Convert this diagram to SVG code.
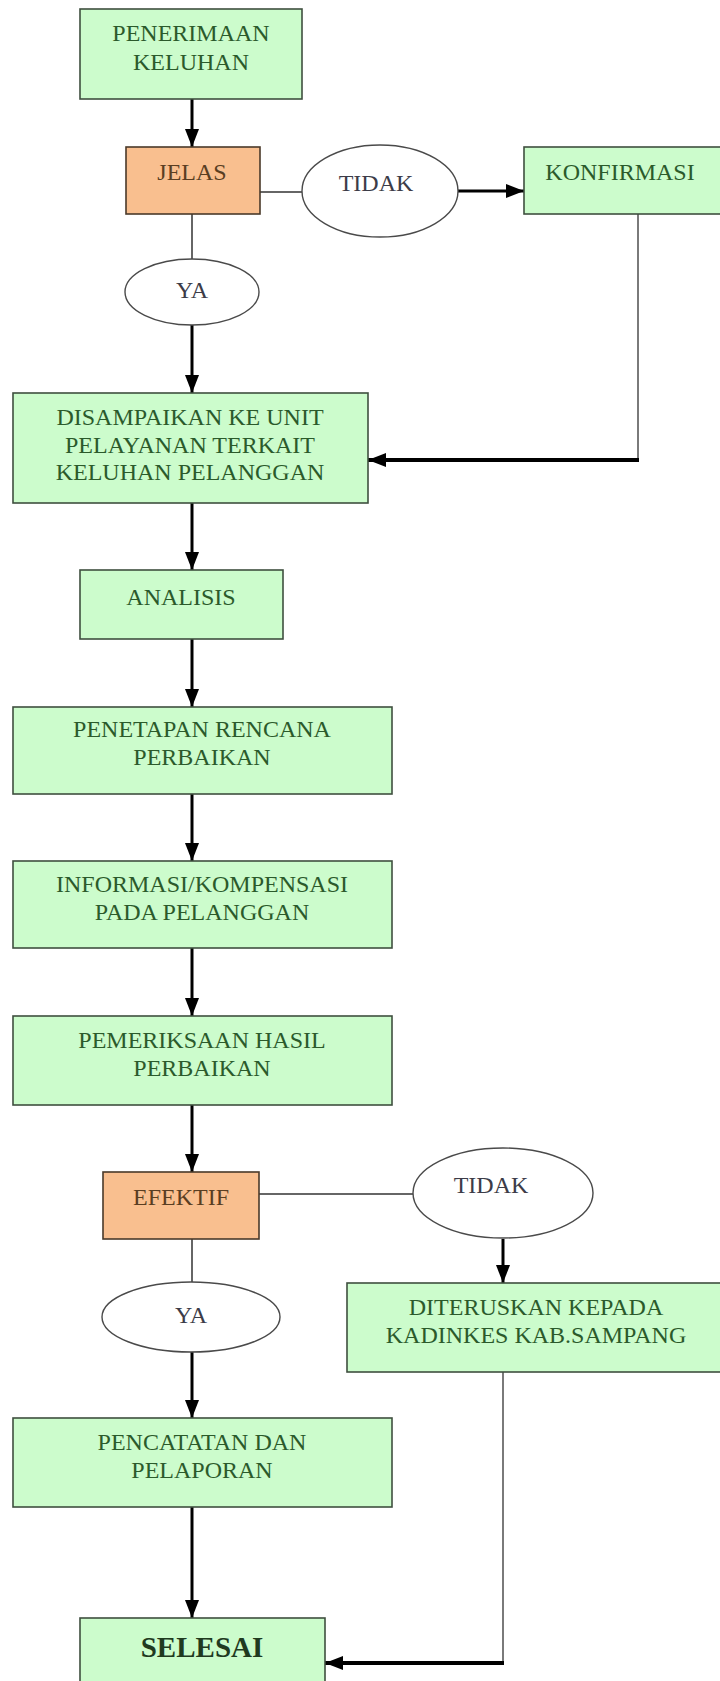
<svg xmlns="http://www.w3.org/2000/svg" width="720" height="1681" viewBox="0 0 720 1681">
<style>
.box{fill:#ccfccc;stroke:#3f4f3f;stroke-width:1.6}
.dec{fill:#f9bf8f;stroke:#4a3a2a;stroke-width:1.6}
.oval{fill:#ffffff;stroke:#4a4a4a;stroke-width:1.4}
.t{font-family:"Liberation Serif","Times New Roman",serif;font-size:24px;text-anchor:middle;fill:#2b5a2b}
.td{font-family:"Liberation Serif","Times New Roman",serif;font-size:24px;text-anchor:middle;fill:#5a3e22}
.to{font-family:"Liberation Serif","Times New Roman",serif;font-size:24px;text-anchor:middle;fill:#3c3c48}
.tb{font-family:"Liberation Serif","Times New Roman",serif;font-size:29px;font-weight:bold;text-anchor:middle;fill:#1f3a1f}
.arr{stroke:#000;stroke-width:3;fill:none;marker-end:url(#ah)}
.arrh{stroke:#000;stroke-width:4;fill:none;marker-end:url(#ah)}
.thin{stroke:#333;stroke-width:1.5;fill:none}
.gray{stroke:#7a7a7a;stroke-width:2;fill:none}
</style>
<defs>
<marker id="ah" markerUnits="userSpaceOnUse" markerWidth="18" markerHeight="14" refX="18" refY="7" orient="auto">
<path d="M0,0 L18,7 L0,14 z" fill="#000"/>
</marker>
</defs>
<rect width="720" height="1681" fill="#fff"/>
<g id="connectors">
<line class="arr" x1="192" y1="99" x2="192" y2="147"/>
<line class="thin" x1="260" y1="192" x2="302" y2="192"/>
<line class="arr" x1="458" y1="191" x2="524" y2="191"/>
<line class="gray" x1="638" y1="214" x2="638" y2="460"/>
<line class="arrh" x1="639" y1="460" x2="368" y2="460"/>
<line class="thin" x1="192" y1="214" x2="192" y2="259"/>
<line class="arr" x1="192" y1="325" x2="192" y2="393"/>
<line class="arr" x1="192" y1="503" x2="192" y2="570"/>
<line class="arr" x1="192" y1="639" x2="192" y2="707"/>
<line class="arr" x1="192" y1="794" x2="192" y2="861"/>
<line class="arr" x1="192" y1="948" x2="192" y2="1016"/>
<line class="arr" x1="192" y1="1105" x2="192" y2="1172"/>
<line class="thin" x1="259" y1="1194" x2="413" y2="1194"/>
<line class="arr" x1="503" y1="1239" x2="503" y2="1283"/>
<line class="thin" x1="192" y1="1239" x2="192" y2="1282"/>
<line class="arr" x1="192" y1="1352" x2="192" y2="1418"/>
<line class="arr" x1="192" y1="1507" x2="192" y2="1618"/>
<line class="gray" x1="503" y1="1372" x2="503" y2="1663"/>
<line class="arrh" x1="504" y1="1663" x2="325" y2="1663"/>
</g>
<g id="penerimaan">
<rect class="box" x="80" y="9" width="222" height="90"/>
<text class="t" x="191" y="41">PENERIMAAN</text>
<text class="t" x="191" y="70">KELUHAN</text>
</g>
<g id="jelas">
<rect class="dec" x="126" y="147" width="134" height="67"/>
<text class="td" x="192" y="180">JELAS</text>
</g>
<g id="tidak1">
<ellipse class="oval" cx="380" cy="191" rx="78" ry="46"/>
<text class="to" x="376" y="191">TIDAK</text>
</g>
<g id="konfirmasi">
<rect class="box" x="524" y="147" width="200" height="67"/>
<text class="t" x="620" y="180">KONFIRMASI</text>
</g>
<g id="ya1">
<ellipse class="oval" cx="192" cy="292" rx="67" ry="33"/>
<text class="to" x="192" y="298">YA</text>
</g>
<g id="disampaikan">
<rect class="box" x="13" y="393" width="355" height="110"/>
<text class="t" x="190" y="425">DISAMPAIKAN KE UNIT</text>
<text class="t" x="190" y="453">PELAYANAN TERKAIT</text>
<text class="t" x="190" y="480">KELUHAN PELANGGAN</text>
</g>
<g id="analisis">
<rect class="box" x="80" y="570" width="203" height="69"/>
<text class="t" x="181" y="605">ANALISIS</text>
</g>
<g id="penetapan">
<rect class="box" x="13" y="707" width="379" height="87"/>
<text class="t" x="202" y="737">PENETAPAN RENCANA</text>
<text class="t" x="202" y="765">PERBAIKAN</text>
</g>
<g id="informasi">
<rect class="box" x="13" y="861" width="379" height="87"/>
<text class="t" x="202" y="892">INFORMASI/KOMPENSASI</text>
<text class="t" x="202" y="920">PADA PELANGGAN</text>
</g>
<g id="pemeriksaan">
<rect class="box" x="13" y="1016" width="379" height="89"/>
<text class="t" x="202" y="1048">PEMERIKSAAN HASIL</text>
<text class="t" x="202" y="1076">PERBAIKAN</text>
</g>
<g id="efektif">
<rect class="dec" x="103" y="1172" width="156" height="67"/>
<text class="td" x="181" y="1205">EFEKTIF</text>
</g>
<g id="tidak2">
<ellipse class="oval" cx="503" cy="1193" rx="90" ry="45"/>
<text class="to" x="491" y="1193">TIDAK</text>
</g>
<g id="ya2">
<ellipse class="oval" cx="191" cy="1317" rx="89" ry="35"/>
<text class="to" x="191" y="1323">YA</text>
</g>
<g id="diteruskan">
<rect class="box" x="347" y="1283" width="376" height="89"/>
<text class="t" x="536" y="1315">DITERUSKAN KEPADA</text>
<text class="t" x="536" y="1343">KADINKES KAB.SAMPANG</text>
</g>
<g id="pencatatan">
<rect class="box" x="13" y="1418" width="379" height="89"/>
<text class="t" x="202" y="1450">PENCATATAN DAN</text>
<text class="t" x="202" y="1478">PELAPORAN</text>
</g>
<g id="selesai">
<rect class="box" x="80" y="1618" width="245" height="70"/>
<text class="tb" x="202" y="1657">SELESAI</text>
</g>
</svg>
